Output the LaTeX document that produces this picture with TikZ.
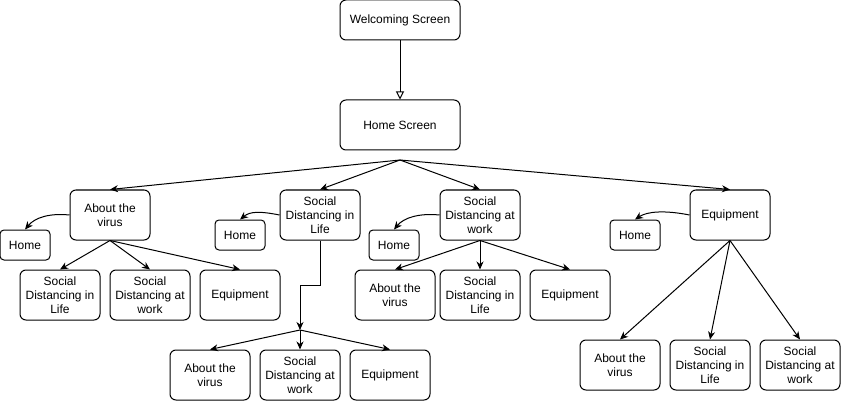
\documentclass[tikz,border=0pt]{standalone}
\usepackage{fontspec}
\setmainfont{Liberation Sans}
\usetikzlibrary{arrows.meta}
\begin{document}
\begin{tikzpicture}[x=1pt,y=-1pt,
 box/.style={draw, rounded corners=6pt, line width=1pt, align=center, font=\fontsize{12}{14}\selectfont, inner sep=2pt, minimum width=80pt, minimum height=50pt},
 hbox/.style={box, minimum width=50pt, minimum height=30pt, rounded corners=4pt},
 arr/.style={line width=1pt, -{Stealth[length=8pt,width=7pt,inset=2.5pt]}},
 tri/.style={line width=1pt, -{Triangle[open,length=8pt,width=8pt]}}
]
\useasboundingbox (0,0) rectangle (841,401);
% top
\node[box, minimum width=120pt, minimum height=40pt] (wel) at (400,20) {Welcoming Screen};
\node[box, minimum width=120pt] (hs) at (400,125) {Home Screen};
\coordinate (hsc) at (400,160);
% level 2
\node[box] (a) at (110,215) {About the\\virus};
\node[box] (b) at (320,215) {Social\\Distancing in\\Life};
\node[box] (c) at (480,215) {Social\\Distancing at\\work};
\node[box] (d) at (730,215) {Equipment};
% homes
\node[hbox] (h1) at (25,245) {Home};
\node[hbox] (h2) at (240,235) {Home};
\node[hbox] (h3) at (394,245) {Home};
\node[hbox] (h4) at (635,235) {Home};
% children of a
\node[box] (a1) at (60,295) {Social\\Distancing in\\Life};
\node[box] (a2) at (150,295) {Social\\Distancing at\\work};
\node[box] (a3) at (240,295) {Equipment};
% children of b
\node[box] (b1) at (210,375) {About the\\virus};
\node[box] (b2) at (300,375) {Social\\Distancing at\\work};
\node[box] (b3) at (390,375) {Equipment};
\coordinate (bs) at (300,330);
% children of c
\node[box] (c1) at (395,295) {About the\\virus};
\node[box] (c2) at (480,295) {Social\\Distancing in\\Life};
\node[box] (c3) at (570,295) {Equipment};
% children of d
\node[box] (d1) at (620,365) {About the\\virus};
\node[box] (d2) at (710,365) {Social\\Distancing in\\Life};
\node[box] (d3) at (800,365) {Social\\Distancing at\\work};
% edges
\draw[tri] (wel.south) -- (hs.north);
\foreach \t in {a,b,c,d} \draw[arr] (hsc) -- (\t.north);
\draw[arr] (a.west) .. controls +(-20,-2) and +(10,-12) .. (h1.north);
\draw[arr] (b.west) .. controls +(-20,-4) and +(10,-8) .. (h2.north);
\draw[arr] (c.west) .. controls +(-20,-2) and +(10,-12) .. (h3.north);
\draw[arr] (d.west) .. controls +(-25,-5) and +(12,-8) .. (h4.north);
\foreach \t in {a1,a2,a3} \draw[arr] (a.south) -- (\t.north);
\draw[arr] (b.south) -- ++(0,45) -| (bs);
\foreach \t in {b1,b2,b3} \draw[arr] (bs) -- (\t.north);
\foreach \t in {c1,c2,c3} \draw[arr] (c.south) -- (\t.north);
\foreach \t in {d1,d2,d3} \draw[arr] (d.south) -- (\t.north);
\end{tikzpicture}
\end{document}
